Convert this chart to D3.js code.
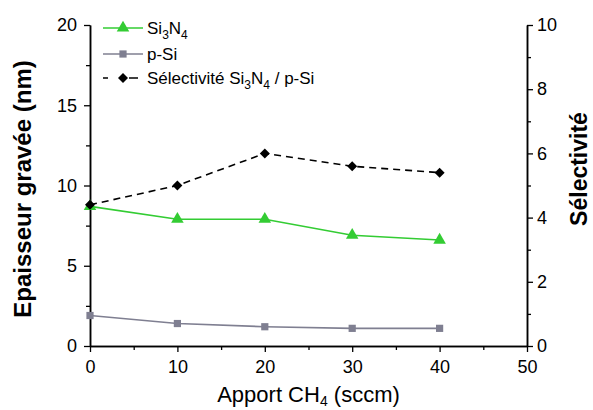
<!DOCTYPE html>
<html>
<head>
<meta charset="utf-8">
<script src="https://cdn.jsdelivr.net/npm/d3@7"></script>
<style>
    body { margin: 0; background: #fff; }
    text { font-family: "Liberation Sans", Arial, sans-serif; }
</style>
</head>
<body>
<svg id="drawing_region"></svg>
<script>
// data
const apport = [0, 10, 20, 30, 40];
const si3n4 = [8.7, 7.9, 7.9, 6.9, 6.6];
const psi = [1.9, 1.4, 1.2, 1.1, 1.1];
const selectivite = [4.4, 5.0, 6.0, 5.6, 5.4];

const xTicks = [0, 10, 20, 30, 40, 50];
const xMinor = [5, 15, 25, 35, 45];
const yLeftTicks = [0, 5, 10, 15, 20];
const yLeftMinor = [2.5, 7.5, 12.5, 17.5];
const yRightTicks = [0, 2, 4, 6, 8, 10];
const yRightMinor = [1, 3, 5, 7, 9];

const config = {
    width: 593,
    height: 410,
    margin: { top: 25, right: 66, bottom: 64, left: 90 }
};

const green = '#33cc33';
const grey = '#7f7f91';

const svg = d3.select('#drawing_region')
    .attr('width', config.width)
    .attr('height', config.height);

const inner_width = config.width - config.margin.left - config.margin.right;
const inner_height = config.height - config.margin.top - config.margin.bottom;

const chart = svg.append('g')
    .attr('transform', `translate(${config.margin.left}, ${config.margin.top})`);

const xscale = d3.scaleLinear().domain([0, 50]).range([0, inner_width]);
const yleft = d3.scaleLinear().domain([0, 20]).range([inner_height, 0]);
const yright = d3.scaleLinear().domain([0, 10]).range([inner_height, 0]);

// axes
function styleAxis(g) {
    g.select('.domain').attr('stroke-width', 1.5);
    g.selectAll('.tick line').attr('stroke-width', 1.3);
    g.selectAll('.tick text').attr('font-size', '18px').attr('fill', '#000')
        .style('font-family', '"Liberation Sans", Arial, sans-serif');
}

chart.append('g')
    .attr('transform', `translate(0, ${inner_height})`)
    .call(d3.axisBottom(xscale).tickValues(xMinor).tickFormat('').tickSize(4).tickSizeOuter(0))
    .call(styleAxis);
chart.append('g')
    .attr('transform', `translate(0, ${inner_height})`)
    .call(d3.axisBottom(xscale).tickValues(xTicks).tickSize(6).tickPadding(8).tickSizeOuter(0))
    .call(styleAxis);

chart.append('g')
    .call(d3.axisLeft(yleft).tickValues(yLeftMinor).tickFormat('').tickSize(4).tickSizeOuter(0))
    .call(styleAxis);
chart.append('g')
    .call(d3.axisLeft(yleft).tickValues(yLeftTicks).tickSize(6).tickPadding(7).tickSizeOuter(0))
    .call(styleAxis);

chart.append('g')
    .attr('transform', `translate(${inner_width}, 0)`)
    .call(d3.axisRight(yright).tickValues(yRightMinor).tickFormat('').tickSize(4).tickSizeOuter(0))
    .call(styleAxis);
chart.append('g')
    .attr('transform', `translate(${inner_width}, 0)`)
    .call(d3.axisRight(yright).tickValues(yRightTicks).tickSize(6).tickPadding(4).tickSizeOuter(0))
    .call(styleAxis);

// axis titles
const xtitle = svg.append('text')
    .attr('x', config.margin.left + inner_width / 2)
    .attr('y', 402)
    .attr('text-anchor', 'middle')
    .attr('font-size', '22px');
xtitle.append('tspan').text('Apport CH');
xtitle.append('tspan').text('4').attr('font-size', '14px').attr('dy', 4);
xtitle.append('tspan').text(' (sccm)').attr('dy', -4);

svg.append('text')
    .attr('transform', 'translate(31, 189) rotate(-90)')
    .attr('text-anchor', 'middle')
    .attr('font-size', '24px')
    .attr('font-weight', 'bold')
    .text('Epaisseur gravée (nm)');

svg.append('text')
    .attr('transform', 'translate(587, 169) rotate(-90)')
    .attr('text-anchor', 'middle')
    .attr('font-size', '23px')
    .attr('font-weight', 'bold')
    .text('Sélectivité');

// series
const diamond = d3.symbol().type(d3.symbolSquare).size(50);
const series = [
    { name: 'si3n4', values: si3n4, y: yleft, color: green, dash: null, symbol: d3.symbol().type(d3.symbolTriangle).size(68), rot: 0 },
    { name: 'psi', values: psi, y: yleft, color: grey, dash: null, symbol: d3.symbol().type(d3.symbolSquare).size(52), rot: 0 },
    { name: 'sel', values: selectivite, y: yright, color: '#000', dash: '7,5', symbol: diamond, rot: 45 }
];

series.forEach(s => {
    const pts = apport.map((x, i) => ({ x: x, y: s.values[i] }));
    const line = d3.line()
        .x(d => xscale(d.x))
        .y(d => s.y(d.y));
    chart.append('path')
        .attr('d', line(pts))
        .attr('fill', 'none')
        .attr('stroke', s.color)
        .attr('stroke-width', 1.6)
        .attr('stroke-dasharray', s.dash);
    chart.selectAll('.pt-' + s.name)
        .data(pts)
        .enter()
        .append('path')
        .attr('class', 'pt-' + s.name)
        .attr('d', s.symbol)
        .attr('transform', d => `translate(${xscale(d.x)}, ${s.y(d.y)}) rotate(${s.rot})`)
        .attr('fill', s.color);
});

// legend
const legendRows = [
    { label: ['Si', '3', 'N', '4'], s: series[0], y: 28 },
    { label: ['p-Si'], s: series[1], y: 54 },
    { label: ['Sélectivité Si', '3', 'N', '4', ' / p-Si'], s: series[2], y: 78 }
];

legendRows.forEach(r => {
    const g = svg.append('g');
    g.append('line')
        .attr('x1', 103).attr('x2', 143)
        .attr('y1', r.y).attr('y2', r.y)
        .attr('stroke', r.s.color)
        .attr('stroke-width', 1.6)
        .attr('stroke-dasharray', r.s.dash ? '5,21,9' : null);
    g.append('path')
        .attr('d', r.s.symbol)
        .attr('transform', `translate(123, ${r.y}) rotate(${r.s.rot})`)
        .attr('fill', r.s.color);
    const t = g.append('text')
        .attr('x', 147)
        .attr('y', r.y + 6)
        .attr('font-size', '17px');
    r.label.forEach((part, i) => {
        const sub = (part === '3' || part === '4');
        const ts = t.append('tspan').text(part);
        if (sub) ts.attr('font-size', '12px').attr('dy', 5);
        else if (i > 0) ts.attr('dy', -5);
    });
});
</script>
</body>
</html>
